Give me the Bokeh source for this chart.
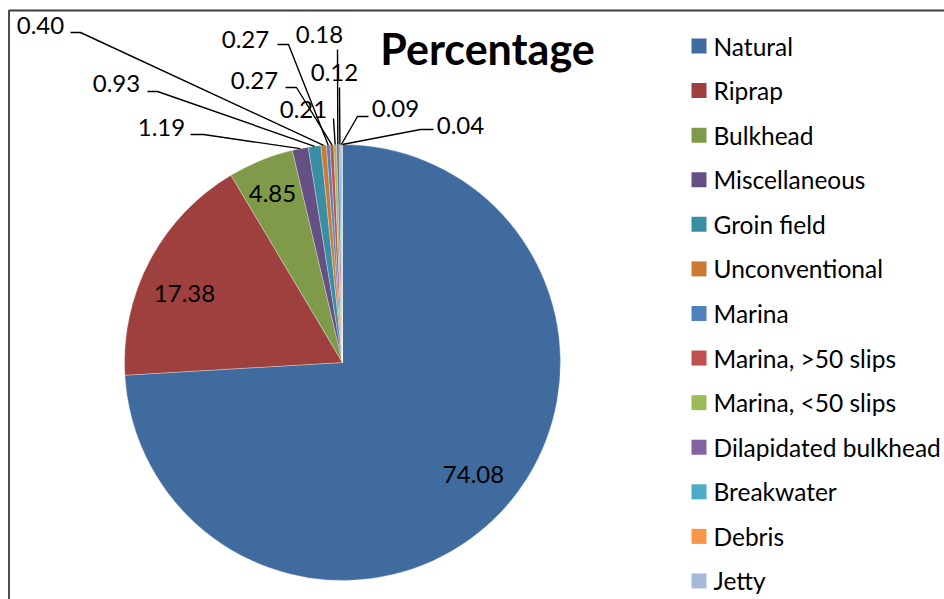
import math
from bokeh.plotting import figure
from bokeh.models import Range1d, ColumnDataSource
from bokeh.core.properties import value
from bokeh.embed import file_html
from bokeh.resources import INLINE

# ---------------- data ----------------
categories = ["Natural", "Riprap", "Bulkhead", "Miscellaneous", "Groin field",
              "Unconventional", "Marina", "Marina, >50 slips", "Marina, <50 slips",
              "Dilapidated bulkhead", "Breakwater", "Debris", "Jetty"]
percentages = [74.08, 17.38, 4.85, 1.19, 0.93, 0.40, 0.27, 0.27, 0.21, 0.18, 0.12, 0.09, 0.04]
title_text = "Percentage"

# ---------------- styles ----------------
colors = ["#3F6B9F", "#9E413E", "#7F9A48", "#664F83", "#3A8EA4", "#CC7A33",
          "#4F81BD", "#C0504D", "#9BBB59", "#8064A2", "#4BACC6", "#F79646", "#A7B9D8"]
FONT = "Lato"

# ---------------- layout (page pixels, y downwards) ----------------
W, H = 944, 599
CX, CY, R = 342, 362, 218
label_pos = [(473, 474), (184, 293), (272, 193), (161, 127), (116, 83), (40, 25),
             (245, 39), (254, 80), (303, 109), (319, 34), (334, 72), (395, 108), (460, 125)]
leader_pts = {3: [(190, 134), (203, 134)], 4: [(147, 91), (157, 91)], 5: [(70, 32), (80, 32)],
              6: [(277, 44), (288, 44)], 7: [(285, 87), (296, 87)], 8: [(333, 118)],
              9: [(337, 49)], 10: [(339, 87)], 11: [(368, 116), (357, 116)],
              12: [(433, 129), (420, 129)]}
LEG_X, LEG_Y0, LEG_DY = 698.5, 45.5, 44.58

p = figure(width=W, height=H, x_range=Range1d(0, W), y_range=Range1d(-H, 0),
           output_backend="svg", toolbar_location=None, min_border=0,
           x_axis_location=None, y_axis_location=None, outline_line_color=None)
p.grid.visible = False

# frame (top and left edges visible)
p.line([8.5, 8.5, W], [-H, -10, -10], line_color="#3a3a3a", line_width=1.8)

# wedges
total = sum(percentages)
starts, ends, mids = [], [], []
cum = 0.0
for v in percentages:
    a0 = math.pi / 2 - 2 * math.pi * cum / total
    cum += v
    a1 = math.pi / 2 - 2 * math.pi * cum / total
    starts.append(a0)
    ends.append(a1)
    mids.append((a0 + a1) / 2)

src = ColumnDataSource(dict(start=starts, end=ends, color=colors, cat=categories))
p.wedge(x=CX, y=-CY, radius=R, start_angle="start", end_angle="end", direction="clock",
        fill_color="color", line_color="white", line_width=0.6, line_alpha=0.5, source=src)

# leader lines
xs, ys = [], []
for i, pts in leader_pts.items():
    ex = CX + R * math.cos(mids[i])
    ey = CY - R * math.sin(mids[i])
    xs.append([q[0] for q in pts] + [ex])
    ys.append([-q[1] for q in pts] + [-ey])
p.multi_line(xs, ys, line_color="black", line_width=1.4)

# data labels
lbl = ColumnDataSource(dict(x=[q[0] for q in label_pos], y=[-q[1] for q in label_pos],
                            t=["%.2f" % v for v in percentages]))
p.text(x="x", y="y", text="t", source=lbl, text_font=value(FONT), text_font_size="24px",
       text_align="center", text_baseline="middle", text_color="black")

# title
p.text(x=[487], y=[-48], text=[title_text], text_font=value(FONT), text_font_size="43px",
       text_font_style="bold", text_align="center", text_baseline="middle", text_color="black")

# legend
ly = [-(LEG_Y0 + i * LEG_DY) for i in range(len(categories))]
p.scatter(x=[LEG_X] * len(categories), y=ly, marker="square", size=15, fill_color=colors,
          line_color=None)
p.text(x=[713] * len(categories), y=ly, text=categories, text_font=value(FONT),
       text_font_size="24.5px", text_align="left", text_baseline="middle", text_color="black")

open("out.html", "w").write(file_html(p, INLINE))
